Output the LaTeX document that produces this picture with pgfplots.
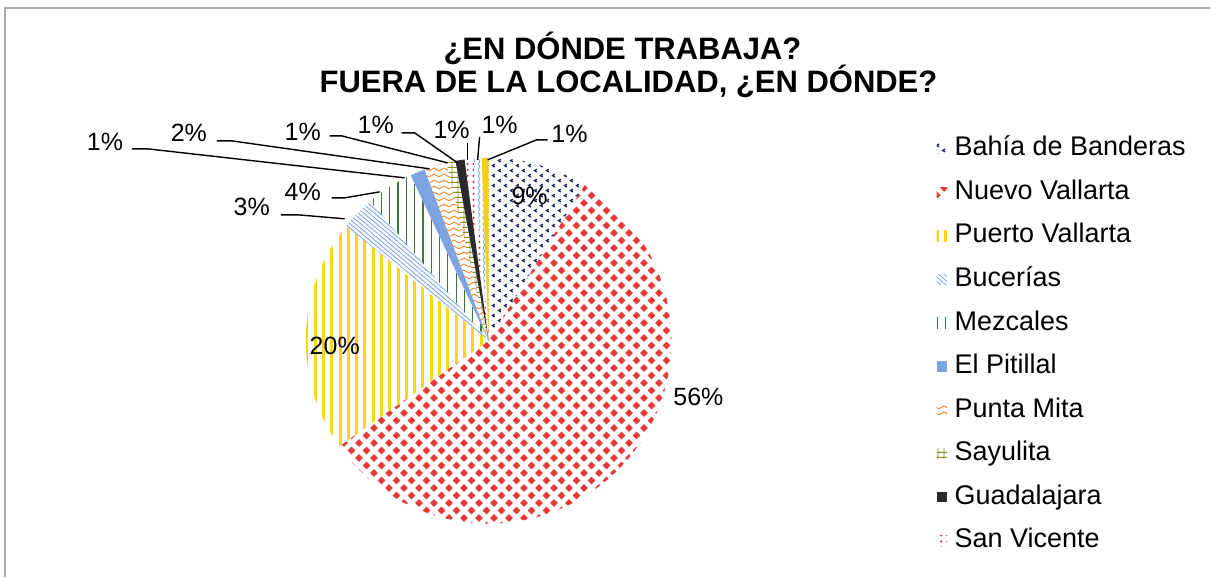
\documentclass[border=0pt]{standalone}
\usepackage{pgfplots}
\pgfplotsset{compat=1.18}
\usepackage{pgfplotstable}
\usetikzlibrary{patterns,patterns.meta}
\usepackage{fontspec}
\setmainfont{Liberation Sans}

\definecolor{bbnavy}{HTML}{1F2A5C}
\definecolor{nvred}{HTML}{E63A3A}
\definecolor{pvyellow}{HTML}{F7D51B}
\definecolor{bucblue}{HTML}{6F9FE0}
\definecolor{mezgreen}{HTML}{3C7A38}
\definecolor{pitblue}{HTML}{7EA3E2}
\definecolor{pmorange}{HTML}{F28A33}
\definecolor{sayolive}{HTML}{8E8C22}
\definecolor{guablack}{HTML}{2A2A2A}
\definecolor{svred}{HTML}{CC1F2E}
\definecolor{zzblue}{HTML}{7AAAE6}
\definecolor{lastyellow}{HTML}{F5CF10}

% pattern tiles
\newcommand\diamondat[2]{%
  \pgfpathmoveto{\pgfpoint{#1-1.95pt}{#2}}\pgfpathlineto{\pgfpoint{#1}{#2+1.95pt}}%
  \pgfpathlineto{\pgfpoint{#1+1.95pt}{#2}}\pgfpathlineto{\pgfpoint{#1}{#2-1.95pt}}\pgfpathclose}
\pgfdeclarepatternformonly{diamondgrid}{\pgfpointorigin}{\pgfpoint{7.5pt}{7.5pt}}{\pgfpoint{7.5pt}{7.5pt}}{%
  \diamondat{0pt}{0pt}\diamondat{7.5pt}{0pt}\diamondat{0pt}{7.5pt}\diamondat{7.5pt}{7.5pt}%
  \diamondat{3.75pt}{3.75pt}\pgfusepath{fill}}
\pgfdeclarepatternformonly{chevrons}{\pgfpointorigin}{\pgfpoint{6pt}{5pt}}{\pgfpoint{6pt}{5pt}}{%
  \pgfsetlinewidth{0.7pt}%
  \pgfpathmoveto{\pgfpoint{1.9pt}{0.5pt}}\pgfpathlineto{\pgfpoint{0.8pt}{1.2pt}}\pgfpathlineto{\pgfpoint{1.9pt}{1.9pt}}%
  \pgfpathmoveto{\pgfpoint{4.9pt}{3pt}}\pgfpathlineto{\pgfpoint{3.8pt}{3.7pt}}\pgfpathlineto{\pgfpoint{4.9pt}{4.4pt}}%
  \pgfusepath{stroke}}
\pgfdeclarepatternformonly{waves}{\pgfpointorigin}{\pgfpoint{5pt}{2.9pt}}{\pgfpoint{5pt}{2.9pt}}{%
  \pgfsetlinewidth{0.5pt}%
  \pgfpathmoveto{\pgfpoint{0pt}{0.6pt}}\pgfpathlineto{\pgfpoint{2.5pt}{2pt}}\pgfpathlineto{\pgfpoint{5pt}{0.6pt}}%
  \pgfusepath{stroke}}
\pgfdeclarepatternformonly{vzigzag}{\pgfpointorigin}{\pgfpoint{2.6pt}{3pt}}{\pgfpoint{2.6pt}{3pt}}{%
  \pgfsetlinewidth{0.45pt}%
  \pgfpathmoveto{\pgfpoint{0.5pt}{0pt}}\pgfpathlineto{\pgfpoint{1.7pt}{1.5pt}}\pgfpathlineto{\pgfpoint{0.5pt}{3pt}}%
  \pgfusepath{stroke}}
\pgfdeclarepatternformonly{olivegrid}{\pgfpointorigin}{\pgfpoint{3pt}{2.5pt}}{\pgfpoint{3pt}{2.5pt}}{%
  \pgfsetlinewidth{0.45pt}%
  \pgfpathmoveto{\pgfpoint{0pt}{0.3pt}}\pgfpathlineto{\pgfpoint{3pt}{0.3pt}}%
  \pgfpathmoveto{\pgfpoint{1.5pt}{0pt}}\pgfpathlineto{\pgfpoint{1.5pt}{2.5pt}}%
  \pgfusepath{stroke}}

\tikzset{
  s0/.style={pattern=chevrons,pattern color=bbnavy},
  s1/.style={pattern=diamondgrid,pattern color=nvred},
  s2/.style={pattern={Lines[angle=90,distance=4.15pt,line width=1.5pt]},pattern color=pvyellow},
  s3/.style={pattern={Lines[angle=-40,distance=1.7pt,line width=0.4pt]},pattern color=bucblue},
  s4/.style={pattern={Lines[angle=90,distance=4.15pt,line width=0.6pt]},pattern color=mezgreen},
  s5/.style={fill=pitblue},
  s6/.style={pattern=waves,pattern color=pmorange},
  s7/.style={pattern=olivegrid,pattern color=sayolive},
  s8/.style={fill=guablack},
  s9/.style={pattern={Dots[radius=0.55pt,distance=3pt]},pattern color=svred},
  s10/.style={pattern=vzigzag,pattern color=zzblue},
  s11/.style={fill=lastyellow},
  lbl/.style={font=\fontsize{12.5}{15}\selectfont,inner sep=0pt,anchor=base},
}
\pgfplotsset{pie legend/.style={legend image code/.code={\path[##1,draw=none] (0pt,-2.6pt) rectangle (5.2pt,2.6pt);}}}

% share of each place (%), clockwise from 12 o'clock; last two have no legend entry
\pgfplotstableread{
pct
8.8
56.4
20.6
3.0
4.2
1.3
2.0
0.8
0.8
0.8
0.7
0.6
}\pietable

\begin{document}
\begin{tikzpicture}
\begin{axis}[
  x=0.5pt,y=0.5pt,
  xmin=0,xmax=1211,ymin=0,ymax=577,
  scale only axis,hide axis,clip=false,disabledatascaling,
  legend style={at={(axis cs:937,441.5)},anchor=north west,draw=none,fill=none,inner sep=0pt,
    font=\fontsize{13.5}{16}\selectfont,row sep=8.8pt,/tikz/column sep=3.8pt,
    nodes={inner sep=0pt,text height=10pt,text depth=3pt}},
  legend cell align=left,
]
  \path (axis cs:0,0) rectangle (axis cs:1211,577);
  \draw[gray!65,line width=1pt] (axis cs:5,0) -- (axis cs:5,569) -- (axis cs:1211,569);

  \xdef\cum{0}
  \pgfplotstableforeachcolumnelement{pct}\of\pietable\as\p{%
    \pgfmathsetmacro\a{90-3.6*\cum}%
    \pgfmathsetmacro\b{90-3.6*(\cum+\p)}%
    \edef\next{\noexpand\fill[s\pgfplotstablerow] (axis cs:489,236) -- ++(\a:91.5pt)
      arc[start angle=\a,end angle=\b,radius=91.5pt] -- cycle;}%
    \next
    \pgfmathsetmacro\c{\cum+\p}\xdef\cum{\c}%
  }

  \addlegendimage{pie legend,s0}\addlegendentry{Bahía de Banderas}
  \addlegendimage{pie legend,s1}\addlegendentry{Nuevo Vallarta}
  \addlegendimage{pie legend,s2}\addlegendentry{Puerto Vallarta}
  \addlegendimage{pie legend,s3}\addlegendentry{Bucerías}
  \addlegendimage{pie legend,s4}\addlegendentry{Mezcales}
  \addlegendimage{pie legend,s5}\addlegendentry{El Pitillal}
  \addlegendimage{pie legend,s6}\addlegendentry{Punta Mita}
  \addlegendimage{pie legend,s7}\addlegendentry{Sayulita}
  \addlegendimage{pie legend,s8}\addlegendentry{Guadalajara}
  \addlegendimage{pie legend,s9}\addlegendentry{San Vicente}

  \node[font=\bfseries\fontsize{15.5}{18}\selectfont,anchor=base] at (axis cs:623,517) {¿EN DÓNDE TRABAJA?};
  \node[font=\bfseries\fontsize{15.5}{18}\selectfont,anchor=base] at (axis cs:629,484) {FUERA DE LA LOCALIDAD, ¿EN DÓNDE?};

  % leader lines
  \draw[line width=0.7pt] (axis cs:132,428) -- (axis cs:148,428) -- (axis cs:405,399);
  \draw[line width=0.7pt] (axis cs:217,436) -- (axis cs:232,436) -- (axis cs:430,408);
  \draw[line width=0.7pt] (axis cs:330,441) -- (axis cs:342,441) -- (axis cs:448,414);
  \draw[line width=0.7pt] (axis cs:402,444) -- (axis cs:415,444) -- (axis cs:458,414);
  \draw[line width=0.7pt] (axis cs:468,434) -- (axis cs:468,417);
  \draw[line width=0.7pt] (axis cs:480,440) -- (axis cs:478,417);
  \draw[line width=0.7pt] (axis cs:548,437) -- (axis cs:537,437) -- (axis cs:488,417);
  \draw[line width=0.7pt] (axis cs:332,379) -- (axis cs:345,379) -- (axis cs:380,385);
  \draw[line width=0.7pt] (axis cs:281,362) -- (axis cs:298,362) -- (axis cs:345,358);

  % percentage labels
  \node[lbl] at (axis cs:530,372) {9\%};
  \node[lbl] at (axis cs:699,171) {56\%};
  \node[lbl] at (axis cs:335,222) {20\%};
  \node[lbl] at (axis cs:252,361) {3\%};
  \node[lbl] at (axis cs:303,376) {4\%};
  \node[lbl] at (axis cs:105,426) {1\%};
  \node[lbl] at (axis cs:189,435) {2\%};
  \node[lbl] at (axis cs:303,436) {1\%};
  \node[lbl] at (axis cs:376,443) {1\%};
  \node[lbl] at (axis cs:452,438) {1\%};
  \node[lbl] at (axis cs:500,443) {1\%};
  \node[lbl] at (axis cs:570,434) {1\%};
\end{axis}
\end{tikzpicture}
\end{document}
